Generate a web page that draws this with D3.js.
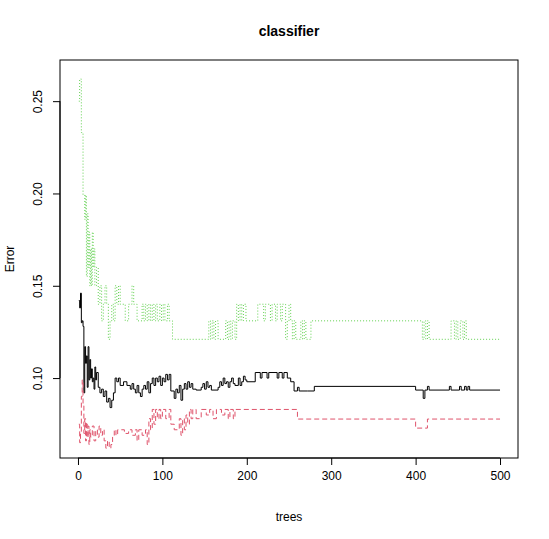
<!DOCTYPE html>
<html>
<head>
<meta charset="UTF-8">
<style>
body { margin: 0; background: white; }
text { font-family: "Liberation Sans", Arial, sans-serif; }
</style>
</head>
<body>
<svg width="549" height="539"></svg>
<script src="https://cdn.jsdelivr.net/npm/d3@7"></script>
<script>
// step runs: [first tree, error value]
const oobRuns = [[1,0.142],[2,0.138],[3,0.146],[4,0.130],[5,0.131],[6,0.128],[7,0.092],[8,0.117],[9,0.108],[10,0.112],[11,0.095],[12,0.117],[13,0.099],[14,0.110],[15,0.100],[16,0.105],[17,0.098],[18,0.100],[19,0.094],[20,0.106],[21,0.099],[22,0.103],[24,0.095],[26,0.092],[28,0.094],[30,0.090],[32,0.093],[34,0.087],[36,0.089],[38,0.084],[40,0.088],[42,0.092],[44,0.100],[46,0.098],[48,0.100],[50,0.096],[54,0.098],[58,0.096],[62,0.094],[64,0.097],[66,0.094],[68,0.092],[70,0.096],[72,0.092],[74,0.090],[76,0.094],[78,0.096],[80,0.094],[82,0.098],[84,0.092],[86,0.097],[88,0.100],[90,0.096],[92,0.100],[94,0.098],[96,0.101],[98,0.096],[100,0.100],[102,0.098],[104,0.102],[106,0.099],[108,0.102],[110,0.093],[114,0.089],[116,0.094],[118,0.092],[120,0.096],[122,0.088],[124,0.094],[126,0.097],[128,0.094],[130,0.098],[132,0.095],[134,0.097],[136,0.094],[140,0.0935],[146,0.095],[148,0.097],[150,0.094],[152,0.098],[154,0.095],[156,0.096],[158,0.0935],[166,0.095],[168,0.098],[170,0.096],[172,0.100],[174,0.097],[176,0.098],[178,0.095],[180,0.098],[182,0.100],[184,0.097],[186,0.096],[190,0.100],[192,0.096],[194,0.098],[196,0.101],[198,0.099],[200,0.098],[210,0.103],[216,0.100],[218,0.103],[224,0.100],[226,0.103],[236,0.100],[238,0.103],[242,0.100],[244,0.103],[248,0.100],[252,0.098],[256,0.093],[260,0.095],[262,0.093],[272,0.093],[280,0.0955],[400,0.0935],[409,0.089],[411,0.0935],[414,0.0955],[416,0.0935],[440,0.0955],[442,0.0935],[452,0.0955],[454,0.0935],[458,0.0955],[460,0.0935],[462,0.0955],[464,0.0935],[500,0.0935]];
const class1Runs = [[1,0.075],[2,0.065],[3,0.070],[4,0.090],[5,0.099],[6,0.085],[7,0.070],[8,0.078],[9,0.066],[10,0.076],[11,0.068],[12,0.074],[13,0.064],[14,0.072],[15,0.068],[17,0.074],[19,0.066],[21,0.072],[23,0.068],[25,0.074],[27,0.069],[29,0.072],[31,0.066],[33,0.062],[35,0.066],[37,0.062],[39,0.064],[41,0.069],[43,0.072],[45,0.069],[47,0.072],[49,0.072],[55,0.070],[60,0.072],[64,0.069],[68,0.072],[70,0.066],[72,0.072],[76,0.069],[80,0.072],[82,0.064],[84,0.078],[86,0.072],[88,0.083],[90,0.075],[92,0.083],[94,0.078],[96,0.083],[98,0.078],[100,0.083],[104,0.078],[108,0.083],[110,0.075],[114,0.072],[120,0.078],[122,0.069],[124,0.078],[126,0.072],[128,0.080],[130,0.075],[132,0.083],[134,0.078],[136,0.083],[140,0.078],[146,0.083],[152,0.080],[156,0.083],[160,0.078],[164,0.083],[170,0.080],[174,0.083],[178,0.078],[180,0.083],[184,0.078],[186,0.083],[260,0.0778],[400,0.0729],[414,0.0778],[500,0.0778]];
const class2Runs = [[1,0.250],[2,0.262],[4,0.233],[6,0.199],[8,0.186],[9,0.199],[10,0.155],[11,0.189],[12,0.160],[13,0.179],[14,0.150],[15,0.170],[16,0.150],[17,0.179],[18,0.160],[19,0.170],[20,0.150],[22,0.160],[24,0.140],[26,0.150],[28,0.131],[30,0.140],[32,0.150],[34,0.140],[36,0.121],[38,0.131],[40,0.140],[42,0.131],[44,0.150],[46,0.140],[48,0.150],[50,0.140],[56,0.131],[60,0.140],[64,0.150],[66,0.140],[70,0.131],[76,0.140],[78,0.131],[80,0.140],[82,0.131],[84,0.140],[86,0.131],[88,0.140],[90,0.131],[92,0.140],[94,0.131],[97,0.140],[99,0.131],[101,0.140],[103,0.131],[106,0.140],[108,0.131],[112,0.121],[155,0.131],[157,0.121],[159,0.131],[161,0.121],[163,0.131],[166,0.121],[175,0.131],[177,0.121],[179,0.131],[181,0.121],[183,0.131],[186,0.121],[188,0.140],[190,0.131],[192,0.140],[194,0.131],[196,0.140],[199,0.131],[213,0.140],[220,0.131],[222,0.140],[228,0.131],[230,0.140],[234,0.131],[236,0.140],[240,0.131],[242,0.140],[246,0.121],[248,0.131],[250,0.140],[252,0.131],[254,0.121],[256,0.131],[258,0.121],[264,0.131],[266,0.121],[268,0.131],[270,0.121],[276,0.131],[408,0.121],[410,0.131],[412,0.121],[414,0.131],[416,0.121],[442,0.131],[446,0.121],[448,0.131],[450,0.121],[453,0.131],[456,0.121],[458,0.131],[460,0.121],[500,0.121]];
const xTicks = [0, 100, 200, 300, 400, 500];
const yTicks = [0.10, 0.15, 0.20, 0.25];

const svg = d3.select("svg");
const plotL = 60, plotR = 518, plotT = 60, plotB = 458;

const x = d3.scaleLinear().domain([-21.3, 521.3]).range([plotL, plotR]);
const y = d3.scaleLinear().domain([0.0567, 0.2723]).range([plotB, plotT]);

const line = d3.line()
    .x(d => x(d[0]))
    .y(d => y(d[1]))
    .curve(d3.curveStepAfter);

const series = [
    { runs: oobRuns, color: "black", dash: null },
    { runs: class1Runs, color: "#DF536B", dash: "5,3" },
    { runs: class2Runs, color: "#61D04F", dash: "1,2" }
];
series.forEach(s => {
    svg.append("path")
        .attr("d", line(s.runs))
        .attr("fill", "none")
        .attr("stroke", s.color)
        .attr("stroke-width", 1)
        .attr("stroke-dasharray", s.dash);
});

svg.append("rect")
    .attr("x", plotL).attr("y", plotT)
    .attr("width", plotR - plotL).attr("height", plotB - plotT)
    .attr("fill", "none").attr("stroke", "black");

svg.append("g")
    .attr("transform", `translate(0,${plotB})`)
    .call(d3.axisBottom(x).tickValues(xTicks).tickSize(7).tickPadding(6).tickSizeOuter(0))
    .call(g => g.select(".domain").attr("d", `M${x(0)},0H${x(500)}`))
    .call(g => g.selectAll("text").attr("font-size", 12).attr("font-family", "Liberation Sans, Arial"));

const ya = svg.append("g")
    .attr("transform", `translate(${plotL},0)`)
    .call(d3.axisLeft(y).tickValues(yTicks).tickFormat(d3.format(".2f")).tickSize(7).tickSizeOuter(0))
    .call(g => g.select(".domain").attr("d", `M0,${y(0.10)}V${y(0.25)}`));
ya.selectAll("text")
    .attr("font-size", 12).attr("font-family", "Liberation Sans, Arial")
    .attr("x", null).attr("dy", null)
    .attr("text-anchor", "middle")
    .attr("transform", "translate(-18,0) rotate(-90)");

svg.append("text").attr("x", 289).attr("y", 36)
    .attr("text-anchor", "middle").attr("font-weight", "bold").attr("font-size", 14)
    .text("classifier");
svg.append("text").attr("x", 289).attr("y", 521)
    .attr("text-anchor", "middle").attr("font-size", 12).text("trees");
svg.append("text").attr("transform", "translate(14,259) rotate(-90)")
    .attr("text-anchor", "middle").attr("font-size", 12).text("Error");
</script>
</body>
</html>
